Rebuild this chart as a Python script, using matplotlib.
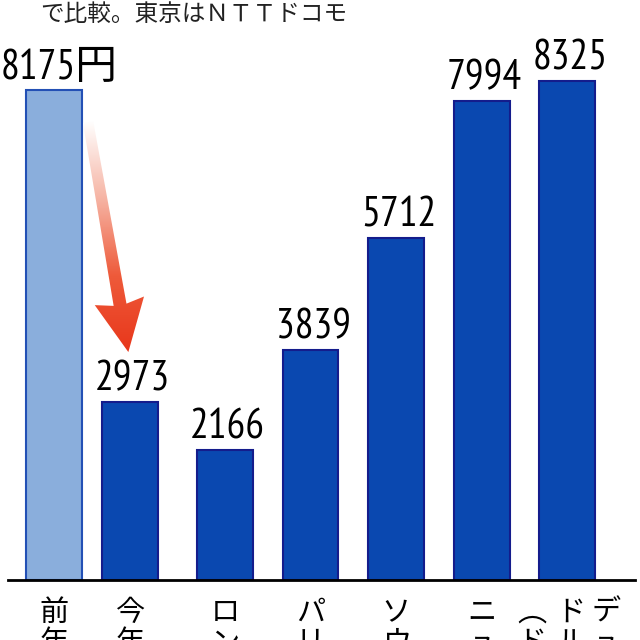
import numpy as np
import matplotlib
matplotlib.use("Agg")
import matplotlib.pyplot as plt
from matplotlib import font_manager
from matplotlib.colors import LinearSegmentedColormap
from matplotlib.patches import Polygon
from matplotlib.transforms import IdentityTransform

# data
categories = ["前年", "今年", "ロンドン", "パリ", "ソウル", "ニューヨーク", "デュッセルドルフ"]
values = [8175, 2973, 2166, 3839, 5712, 7994, 8325]
value_labels = ["8175円", "2973", "2166", "3839", "5712", "7994", "8325"]
title_line = "で比較。東京はＮＴＴドコモ"
note_line = "︵ドイツ︶"

# fonts: narrow sans for numbers, CJK for the rest
installed = {f.name for f in font_manager.fontManager.ttflist}
num_font = next((f for f in ["PT Sans Narrow", "Open Sans Condensed", "Roboto Condensed",
                             "Liberation Sans Narrow"] if f in installed), "Liberation Sans")
cjk_font = "Noto Sans CJK JP"
plt.rcParams["font.family"] = [cjk_font, "DejaVu Sans"]

fig = plt.figure(figsize=(6.4, 6.4), dpi=100)
ax = fig.add_axes([0, 0, 1, 1])
ax.set_xlim(-0.63, 6.85)
ax.set_ylim(-1000, 9675)
ax.axis("off")

# the first gap is a bit narrower than the others
pos = np.arange(len(values), dtype=float)
pos[1] -= 0.11
width = 0.65

fills = ["#8AAEDC"] + ["#0A48B0"] * (len(values) - 1)
edges = ["#2350B5"] + ["#141C8C"] * (len(values) - 1)
ax.bar(pos, values, width=width, color=fills, edgecolor=edges, linewidth=1.5, zorder=2)

# baseline
ax.axhline(0, xmin=0.012, xmax=0.992, color="black", linewidth=2, zorder=3)

# value labels
for x, v, lab in zip(pos, values, value_labels):
    dx = 0.06 if lab.endswith("円") else 0.03
    ax.text(x + dx, v + 40, lab, ha="center", va="bottom", fontsize=30,
            family=[num_font, cjk_font], color="black")

# vertical category labels (top-to-bottom, cut off by the frame)
def vtext(x, s, y=-300):
    ax.text(x, y, "\n".join(s), ha="center", va="top", fontsize=21,
            linespacing=1.0, color="black")

for x, name in zip(pos[:-1], categories[:-1]):
    vtext(x, name.replace("ー", "︱"))
# last label wraps into columns, right to left
last = categories[-1]
vtext(pos[-1] + 0.45, last[:5])
vtext(pos[-1] + 0.04, last[5:])
vtext(pos[-1] - 0.41, note_line)

# title line, top of it cut off by the frame
fig.text(40 / 640, 1 - 26 / 640, title_line, ha="left", va="bottom",
         fontsize=17, color="#222222")

# gradient arrow from last year's bar down to this year's
fig.canvas.draw()
tail = ax.transData.transform((pos[0] + 0.40, values[0] - 540))
tip = ax.transData.transform((pos[1] - 0.02, values[1] + 830))
d = tip - tail
u = d / np.hypot(*d)
n = np.array([-u[1], u[0]])
shaft_w, head_w, head_l = 13, 50, 48
neck = tip - u * head_l
pts = [tail + n * shaft_w / 2 * 0.8, neck + n * shaft_w / 2, neck + n * head_w / 2 - u * 4, tip,
       neck - n * head_w / 2 - u * 4, neck - n * shaft_w / 2, tail - n * shaft_w / 2 * 0.8]
arrow = Polygon(pts, closed=True, transform=IdentityTransform(), facecolor="none",
                edgecolor="none", zorder=4)
ax.add_patch(arrow)

cmap = LinearSegmentedColormap.from_list("fade", ["#FFFFFF", "#F6B4A4", "#EE5A3A", "#E8361A"])
grad = np.linspace(0, 1, 256).reshape(-1, 1)
inv = ax.transData.inverted()
(x0, y0), (x1, y1) = inv.transform([(min(p[0] for p in pts) - 2, tail[1] + 2),
                                    (max(p[0] for p in pts) + 2, tip[1] - 2)])
img = ax.imshow(grad, cmap=cmap, aspect="auto", extent=[x0, x1, y1, y0],
                origin="upper", zorder=4, interpolation="bilinear")
img.set_clip_path(arrow)
ax.set_xlim(-0.63, 6.85)
ax.set_ylim(-1000, 9675)

fig.savefig("out.png", dpi=100, facecolor="white")
